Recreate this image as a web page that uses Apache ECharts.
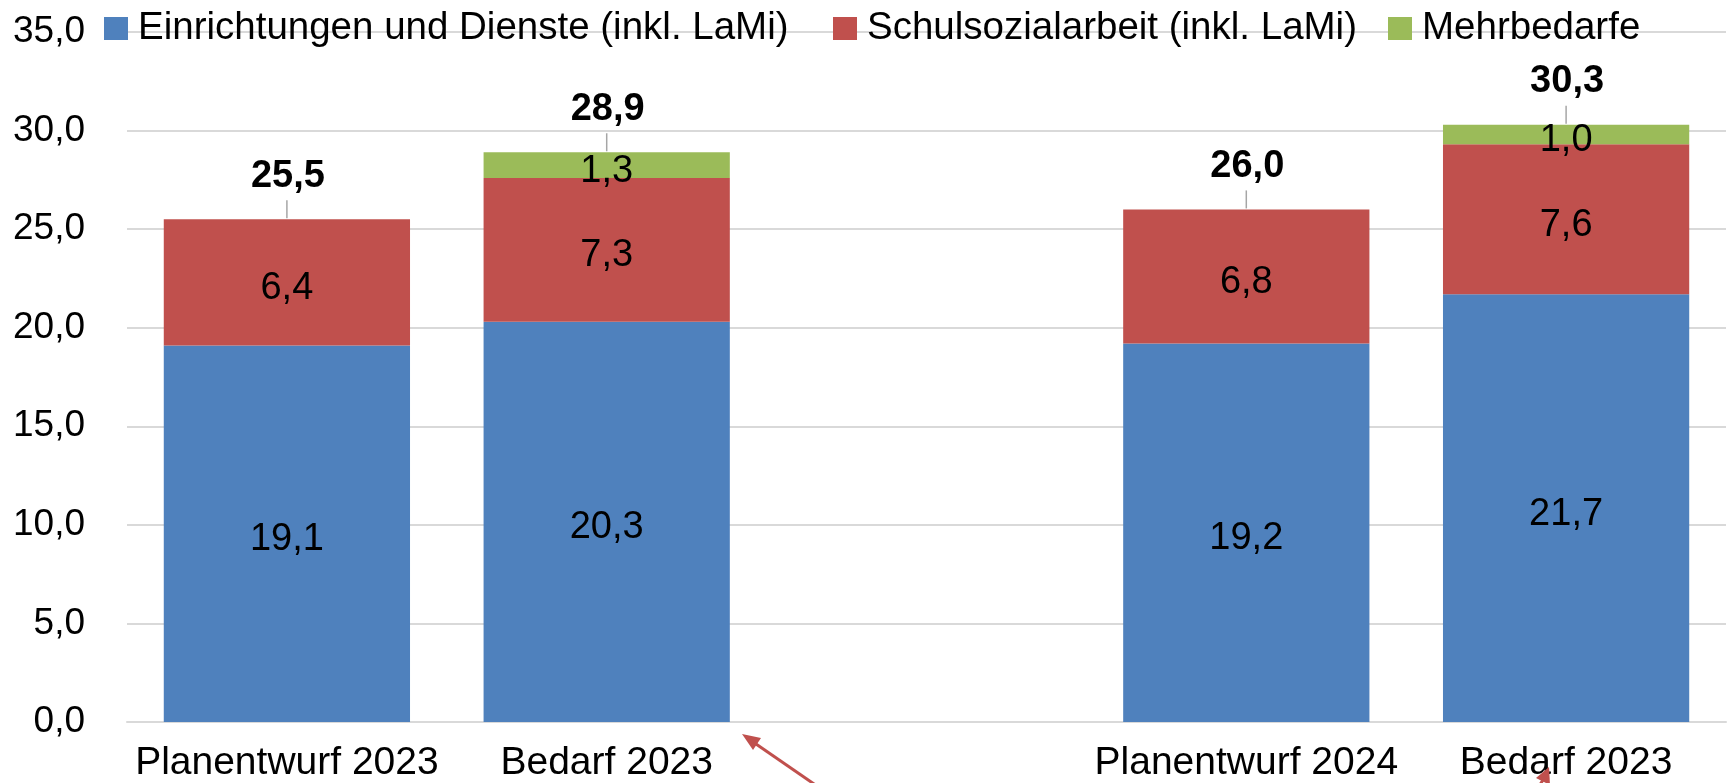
<!DOCTYPE html>
<html>
<head>
<meta charset="utf-8">
<script src="https://cdn.jsdelivr.net/npm/echarts@6/dist/echarts.min.js"></script>
<style>
html,body{margin:0;padding:0;background:#fff;}
#chart{width:1731px;height:783px;}
</style>
</head>
<body>
<div id="chart"></div>
<script>
// ---- data ----
const categories = ['Planentwurf 2023', 'Bedarf 2023', '', 'Planentwurf 2024', 'Bedarf 2023'];
const seriesNames = ['Einrichtungen und Dienste (inkl. LaMi)', 'Schulsozialarbeit (inkl. LaMi)', 'Mehrbedarfe'];
const einrichtungen = [19.1, 20.3, null, 19.2, 21.7];
const schulsozialarbeit = [6.4, 7.3, null, 6.8, 7.6];
const mehrbedarfe = [null, 1.3, null, null, 1.0];
const totals = [25.5, 28.9, null, 26.0, 30.3];
const yMin = 0, yMax = 35, yStep = 5;

// ---- styling ----
const FONT = '"Liberation Sans", Arial, sans-serif';
const colors = ['#4F81BD', '#C0504D', '#9BBB59'];
const fmt = v => Number(v).toFixed(1).replace('.', ',');

const chart = echarts.init(document.getElementById('chart'), null, {renderer: 'canvas'});

function barSeries(name, data, color) {
  return {
    name: name,
    type: 'bar',
    stack: 'total',
    data: data,
    barCategoryGap: '23%',
    itemStyle: {color: color},
    label: {
      show: true,
      position: 'inside',
      offset: [0, 6],
      fontFamily: FONT,
      fontSize: 38,
      color: '#000',
      formatter: p => fmt(p.value)
    },
    emphasis: {disabled: true}
  };
}

const totalData = [];
totals.forEach((t, i) => { if (t !== null) totalData.push([i, t]); });

function legend(left, name) {
  return {
    left: left, top: 4,
    data: [name],
    icon: 'rect',
    itemWidth: 24, itemHeight: 23,
    selectedMode: false,
    textStyle: {fontFamily: FONT, fontSize: 38.5, color: '#000', padding: [0, 0, 0, 5]}
  };
}

const option = {
  animation: false,
  backgroundColor: '#fff',
  legend: [
    legend(99, seriesNames[0]),
    legend(828, seriesNames[1]),
    legend(1383, seriesNames[2])
  ],
  grid: {left: 127, right: 5, top: 32, bottom: 61, containLabel: false},
  xAxis: {
    type: 'category',
    data: categories,
    axisTick: {show: false},
    axisLine: {lineStyle: {color: '#d9d9d9', width: 2}},
    axisLabel: {fontFamily: FONT, fontSize: 39, color: '#000', margin: 22, interval: 0}
  },
  yAxis: {
    type: 'value',
    min: yMin, max: yMax, interval: yStep,
    axisLine: {show: false},
    axisTick: {show: false},
    splitLine: {lineStyle: {color: '#d9d9d9', width: 2}},
    axisLabel: {fontFamily: FONT, fontSize: 37, color: '#000', margin: 42, formatter: v => fmt(v)}
  },
  series: [
    barSeries(seriesNames[0], einrichtungen, colors[0]),
    barSeries(seriesNames[1], schulsozialarbeit, colors[1]),
    barSeries(seriesNames[2], mehrbedarfe, colors[2]),
    {
      type: 'custom',
      name: 'Summe',
      data: totalData,
      z: 10,
      renderItem: function (params, api) {
        const p = api.coord([api.value(0), api.value(1)]);
        return {
          type: 'group',
          children: [
            {type: 'line', shape: {x1: p[0], y1: p[1] - 1, x2: p[0], y2: p[1] - 19},
             style: {stroke: '#a6a6a6', lineWidth: 1.5}},
            {type: 'text', style: {text: fmt(api.value(1)), x: p[0] + 1, y: p[1] - 43,
             align: 'center', verticalAlign: 'middle',
             font: 'bold 38px ' + FONT, fill: '#000'}}
          ]
        };
      }
    }
  ],
  graphic: [
    {type: 'line', z: 100, shape: {x1: 830, y1: 795, x2: 756, y2: 744},
     style: {stroke: '#C0504D', lineWidth: 3}},
    {type: 'polygon', z: 100, shape: {points: [[742, 734], [761, 738], [753, 750]]},
     style: {fill: '#C0504D'}},
    {type: 'line', z: 100, shape: {x1: 1530, y1: 800, x2: 1543, y2: 780},
     style: {stroke: '#C0504D', lineWidth: 3}},
    {type: 'polygon', z: 100, shape: {points: [[1549, 767], [1536, 778], [1550, 785]]},
     style: {fill: '#C0504D'}}
  ]
};
chart.setOption(option);
</script>
</body>
</html>
